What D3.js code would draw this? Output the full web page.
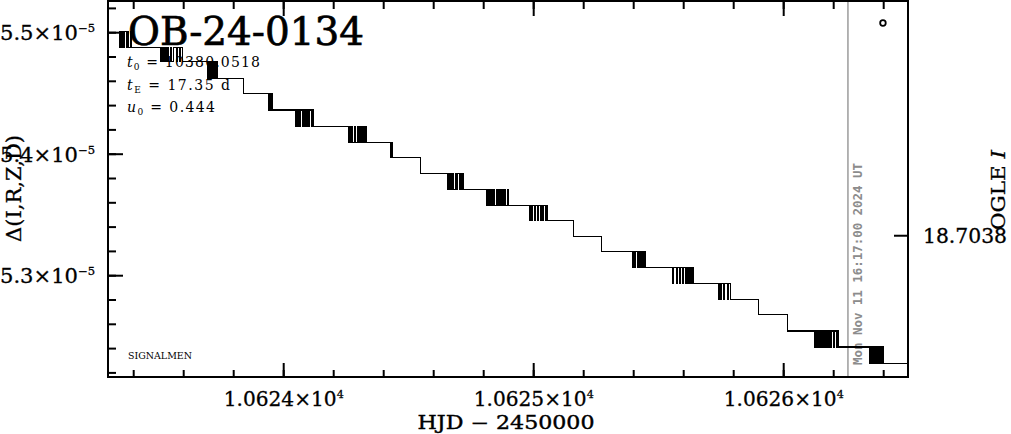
<!DOCTYPE html>
<html><head><meta charset="utf-8">
<script src="https://cdn.jsdelivr.net/npm/d3@7"></script>
<style>html,body{margin:0;padding:0;background:#fff;} svg{display:block;}</style>
</head><body><svg id="c" width="1011" height="434"></svg>
<script>
// ---------------- data ----------------
const eventName = "OB-24-0134";
const paramSym = ["t", "t", "u"];
const paramSub = ["0", "E", "0"];
const paramVal = [" = 10380.0518", " = 17.35 d", " = 0.444"];
const xMajorTicks = [10624, 10625, 10626];
const yMajorTicks = [5.3, 5.4, 5.5];          // in units of 1e-5
const rightTickLabels = [18.7038];            // OGLE I
const rightTickFlux = [5.3329];               // flux (1e-5) at that magnitude
const nowHJD = [10626.257];
const nowLabel = ["Mon Nov 11 16:17:00 2024 UT"];
const ogleHJD = [10626.397];
const ogleFlux = [5.5080];

const hjd = [
 10623.340,10623.344,10623.348,10623.352,10623.356,10623.360,10623.364,10623.372,10623.376,10623.380,10623.388,10623.392,
 10623.508,10623.512,10623.516,10623.520,10623.524,10623.528,10623.532,10623.536,10623.540,10623.548,10623.552,10623.560,10623.572,10623.576,10623.584,10623.588,10623.596,
 10623.696,10623.700,10623.704,10623.708,10623.712,10623.716,10623.720,10623.724,10623.728,10623.732,10623.736,
 10623.840,
 10623.940,10623.944,10623.948,10623.952,10623.956,
 10624.048,10624.052,10624.056,10624.060,10624.064,10624.068,10624.076,10624.080,10624.084,10624.088,10624.092,10624.096,10624.100,10624.104,10624.112,10624.116,10624.120,
 10624.260,10624.264,10624.268,10624.272,10624.276,10624.284,10624.288,10624.296,10624.300,10624.304,10624.308,10624.312,10624.316,10624.320,10624.324,10624.328,10624.332,
 10624.428,10624.432,10624.436,
 10624.548,
 10624.656,10624.660,10624.664,10624.668,10624.672,10624.676,10624.680,10624.688,10624.692,10624.696,10624.704,10624.708,10624.712,10624.716,10624.720,
 10624.812,10624.816,10624.820,10624.824,10624.828,10624.832,10624.836,10624.840,10624.844,10624.852,10624.856,10624.860,10624.864,10624.868,10624.872,10624.876,10624.880,10624.884,10624.888,10624.896,10624.900,
 10624.984,10624.988,10624.992,10624.996,10625.004,10625.008,10625.016,10625.020,10625.028,10625.032,10625.036,10625.040,10625.048,10625.052,10625.056,
 10625.160,
 10625.272,
 10625.396,10625.400,10625.404,10625.408,10625.416,10625.420,10625.424,10625.428,10625.432,10625.436,10625.440,10625.444,10625.448,
 10625.556,10625.560,10625.572,10625.576,10625.584,10625.588,10625.596,10625.600,10625.608,10625.612,10625.616,10625.620,10625.624,10625.628,10625.632,10625.636,10625.640,
 10625.740,10625.744,10625.748,10625.752,10625.760,10625.764,10625.776,10625.780,10625.788,
 10625.900,
 10626.016,
 10626.124,10626.128,10626.132,10626.136,10626.140,10626.144,10626.148,10626.152,10626.156,10626.160,10626.164,10626.168,10626.172,10626.176,10626.180,10626.184,10626.188,10626.192,10626.200,10626.204,10626.212,10626.216,10626.220,
 10626.344,10626.348,10626.352,10626.356,10626.360,10626.364,10626.368,10626.372,10626.376,10626.380,10626.384,10626.388,10626.392,10626.396,10626.400,
 10626.500
];
// flux in units of 1e-5
const flux = [
 5.5008,5.4876,5.5008,5.4876,5.5008,5.4876,5.5008,5.4876,5.5008,5.4876,5.5008,5.4876,
 5.4760,5.4876,5.4760,5.4876,5.4760,5.4876,5.4760,5.4876,5.4760,5.4876,5.4760,5.4876,5.4760,5.4876,5.4760,5.4876,5.4760,
 5.4620,5.4760,5.4620,5.4760,5.4620,5.4760,5.4620,5.4760,5.4620,5.4760,5.4620,
 5.4496,
 5.4364,5.4496,5.4364,5.4496,5.4364,
 5.4231,5.4364,5.4231,5.4364,5.4231,5.4364,5.4231,5.4364,5.4231,5.4364,5.4231,5.4364,5.4231,5.4364,5.4231,5.4364,5.4231,
 5.4099,5.4231,5.4099,5.4231,5.4099,5.4231,5.4099,5.4231,5.4099,5.4231,5.4099,5.4231,5.4099,5.4231,5.4099,5.4231,5.4099,
 5.3975,5.4099,5.3975,
 5.3843,
 5.3711,5.3843,5.3711,5.3843,5.3711,5.3843,5.3711,5.3843,5.3711,5.3843,5.3711,5.3843,5.3711,5.3843,5.3711,
 5.3579,5.3711,5.3579,5.3711,5.3579,5.3711,5.3579,5.3711,5.3579,5.3711,5.3579,5.3711,5.3579,5.3711,5.3579,5.3711,5.3579,5.3711,5.3579,5.3711,5.3579,
 5.3455,5.3579,5.3455,5.3579,5.3455,5.3579,5.3455,5.3579,5.3455,5.3579,5.3455,5.3579,5.3455,5.3579,5.3455,
 5.3322,
 5.3198,
 5.3066,5.3198,5.3066,5.3198,5.3066,5.3198,5.3066,5.3198,5.3066,5.3198,5.3066,5.3198,5.3066,
 5.2934,5.3066,5.2934,5.3066,5.2934,5.3066,5.2934,5.3066,5.2934,5.3066,5.2934,5.3066,5.2934,5.3066,5.2934,5.3066,5.2934,
 5.2802,5.2934,5.2802,5.2934,5.2802,5.2934,5.2802,5.2934,5.2802,
 5.2678,
 5.2545,
 5.2413,5.2545,5.2413,5.2545,5.2413,5.2545,5.2413,5.2545,5.2413,5.2545,5.2413,5.2545,5.2413,5.2545,5.2413,5.2545,5.2413,5.2545,5.2413,5.2545,5.2413,5.2545,5.2413,
 5.2281,5.2413,5.2281,5.2413,5.2281,5.2413,5.2281,5.2413,5.2281,5.2413,5.2281,5.2413,5.2281,5.2413,5.2281,
 5.2281
];

// ---------------- layout ----------------
const L = 108, R = 908, T = 1, B = 377;
const FONT = "'DejaVu Serif', serif";
const svg = d3.select("#c");
const x = d3.scaleLinear().domain([10623.2972, 10626.4972]).range([L, R]);
const y = d3.scaleLinear().domain([5.21663, 5.52609]).range([B, T]);

// text annotations (drawn under the data)
svg.append("text").attr("x", 128).attr("y", 45)
  .attr("font-family", FONT).attr("font-size", 40)
  .attr("stroke", "#000").attr("stroke-width", 0.7)
  .attr("textLength", 236).attr("lengthAdjust", "spacingAndGlyphs")
  .text(eventName);

const pBase = [67, 90, 112], pLen = [133, 103, 88];
paramSym.forEach((s, i) => {
  const t = svg.append("text").attr("x", 127).attr("y", pBase[i])
    .attr("font-family", FONT).attr("font-size", 14)
    .attr("textLength", pLen[i]).attr("lengthAdjust", "spacing");
  t.append("tspan").attr("font-style", "italic").text(s);
  t.append("tspan").attr("font-size", 9).attr("dy", 3).text(paramSub[i]);
  t.append("tspan").attr("dy", -3).text(paramVal[i]);
});

svg.append("text").attr("x", 128).attr("y", 359)
  .attr("font-family", FONT).attr("font-size", 10)
  .attr("textLength", 64).attr("lengthAdjust", "spacingAndGlyphs")
  .text("SIGNALMEN");

// "now" line and label
svg.selectAll(".now").data(nowHJD).enter().append("line")
  .attr("x1", d => x(d)).attr("x2", d => x(d)).attr("y1", T).attr("y2", B)
  .attr("stroke", "#8c8c8c").attr("stroke-width", 1.3);
svg.selectAll(".nowt").data(nowHJD).enter().append("text")
  .attr("transform", d => `translate(${x(d) + 14},365) rotate(-90)`)
  .attr("font-family", "'DejaVu Sans Mono', monospace").attr("font-weight", "bold")
  .attr("font-size", 13).attr("fill", "#8c8c8c")
  .attr("textLength", 202).attr("lengthAdjust", "spacingAndGlyphs")
  .text((d, i) => nowLabel[i]);

// data line
const pts = hjd.map((h, i) => [h, flux[i]]).filter(p => p[1] !== undefined);
svg.append("path").datum(pts)
  .attr("d", d3.line().x(d => x(d[0])).y(d => y(d[1])).curve(d3.curveStepAfter))
  .attr("fill", "none").attr("stroke", "#000").attr("stroke-width", 1.1)
  .attr("shape-rendering", "crispEdges");

// OGLE marker
svg.selectAll(".og").data(ogleHJD).enter().append("circle")
  .attr("cx", d => x(d)).attr("cy", (d, i) => y(ogleFlux[i])).attr("r", 2.8)
  .attr("fill", "none").attr("stroke", "#000").attr("stroke-width", 1.8);

// frame
svg.append("rect").attr("x", L).attr("y", T).attr("width", R - L).attr("height", B - T)
  .attr("fill", "none").attr("stroke", "#000").attr("stroke-width", 2);

// x ticks (bottom & top)
const xMinor = d3.range(10623.4, 10626.45, 0.2);
const tk = svg.append("g").attr("stroke", "#000").attr("stroke-width", 2);
xMinor.forEach(v => {
  tk.append("line").attr("x1", x(v)).attr("x2", x(v)).attr("y1", B).attr("y2", B - 7);
  tk.append("line").attr("x1", x(v)).attr("x2", x(v)).attr("y1", T).attr("y2", T + 8);
});
xMajorTicks.forEach(v => {
  tk.append("line").attr("x1", x(v)).attr("x2", x(v)).attr("y1", B).attr("y2", B - 14);
  tk.append("line").attr("x1", x(v)).attr("x2", x(v)).attr("y1", T).attr("y2", T + 15);
});
// y ticks (left)
const yMinor = d3.range(5.22, 5.525, 0.02);
yMinor.forEach(v => {
  tk.append("line").attr("x1", L).attr("x2", L + 8).attr("y1", y(v)).attr("y2", y(v));
});
yMajorTicks.forEach(v => {
  tk.append("line").attr("x1", L).attr("x2", L + 15).attr("y1", y(v)).attr("y2", y(v));
});
// right tick
rightTickFlux.forEach(v => {
  tk.append("line").attr("x1", R).attr("x2", R - 14).attr("y1", y(v)).attr("y2", y(v));
});

// tick labels
xMajorTicks.forEach(v => {
  const t = svg.append("text").attr("x", x(v) - 60).attr("y", 406)
    .attr("font-family", FONT).attr("font-size", 20)
    .attr("stroke", "#000").attr("stroke-width", 0.3)
    .attr("textLength", 120).attr("lengthAdjust", "spacingAndGlyphs")
    .text((v / 1e4).toFixed(4) + "×10");
  t.append("tspan").attr("dy", -8).attr("font-size", 11).text("4");
});
yMajorTicks.forEach(v => {
  const t = svg.append("text").attr("x", 0).attr("y", y(v) + 7.5)
    .attr("font-family", FONT).attr("font-size", 20)
    .attr("stroke", "#000").attr("stroke-width", 0.3)
    .attr("textLength", 95).attr("lengthAdjust", "spacingAndGlyphs")
    .text(v.toFixed(1) + "×10");
  t.append("tspan").attr("dy", -8).attr("font-size", 11).text("−5");
});
rightTickFlux.forEach((v, i) => {
  svg.append("text").attr("x", 923).attr("y", y(v) + 7.5)
    .attr("font-family", FONT).attr("font-size", 20)
    .attr("stroke", "#000").attr("stroke-width", 0.3)
    .attr("textLength", 84).attr("lengthAdjust", "spacingAndGlyphs")
    .text(rightTickLabels[i].toFixed(4));
});

// axis titles
svg.append("text").attr("x", 506).attr("y", 429).attr("text-anchor", "middle")
  .attr("font-family", FONT).attr("font-size", 18)
  .attr("stroke", "#000").attr("stroke-width", 0.4)
  .attr("textLength", 177).attr("lengthAdjust", "spacingAndGlyphs")
  .text("HJD − 2450000");
svg.append("text").attr("transform", "translate(21,242) rotate(-90)")
  .attr("font-family", FONT).attr("font-size", 20)
  .attr("stroke", "#000").attr("stroke-width", 0.3)
  .attr("textLength", 107).attr("lengthAdjust", "spacingAndGlyphs")
  .text("Δ(I,R,Z,D)");
const rl = svg.append("text").attr("transform", "translate(1005,230) rotate(-90)")
  .attr("font-family", FONT).attr("font-size", 19)
  .attr("stroke", "#000").attr("stroke-width", 0.3)
  .attr("textLength", 80).attr("lengthAdjust", "spacingAndGlyphs");
rl.append("tspan").text("OGLE ");
rl.append("tspan").attr("font-style", "italic").text("I");
</script>
</body></html>
